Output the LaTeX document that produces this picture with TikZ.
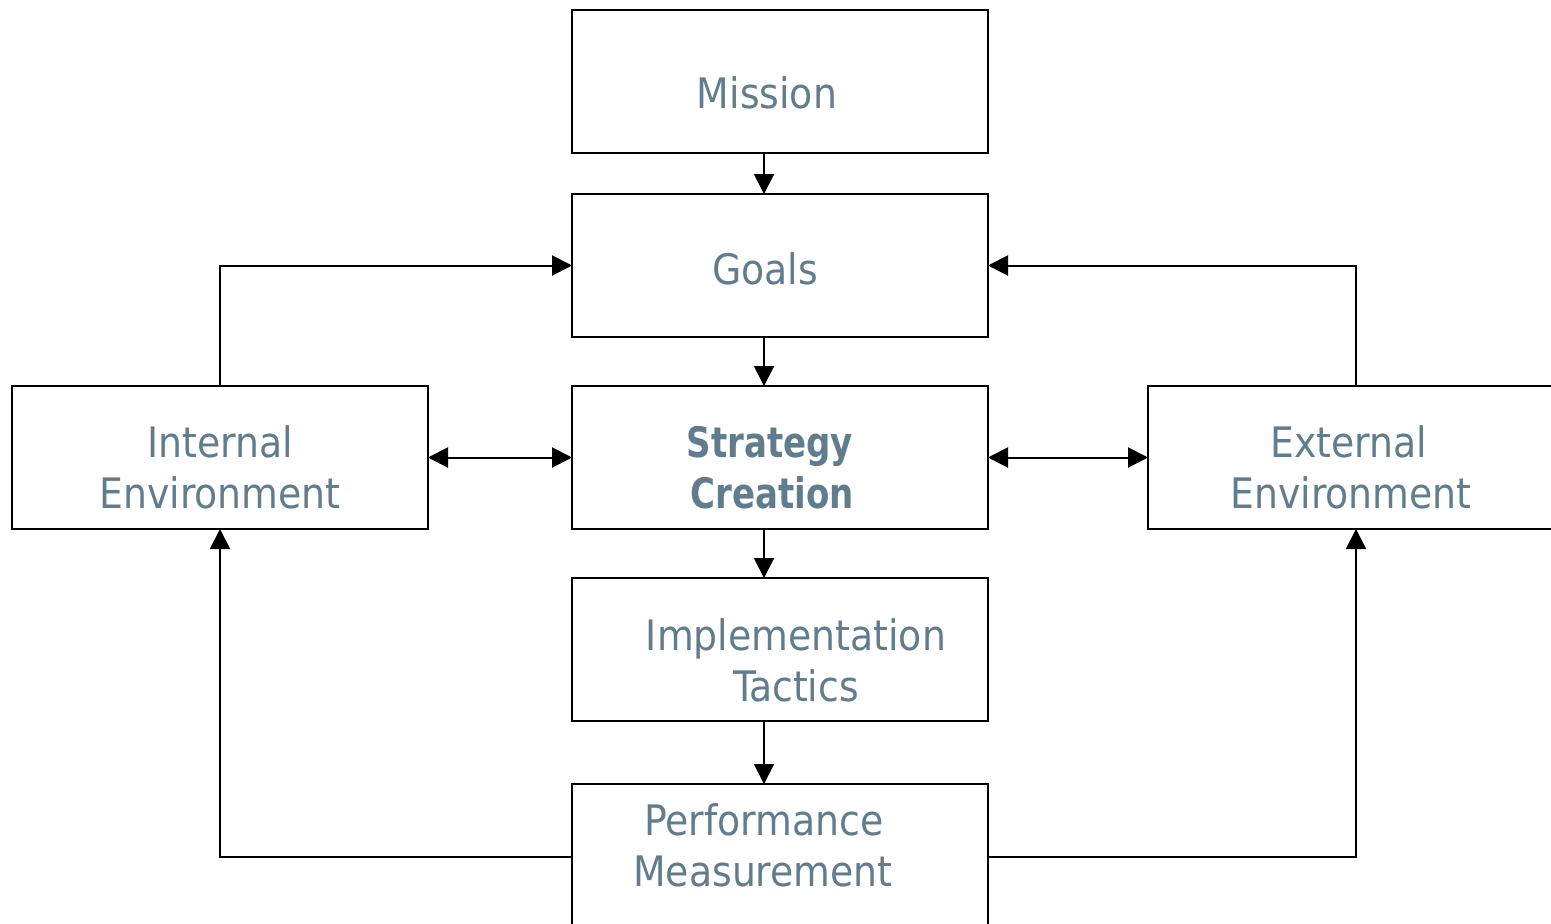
\documentclass[tikz,border=0pt]{standalone}
\usepackage{fontspec}
\setmainfont{DejaVu Sans Condensed}
\newfontfamily\bcond[FakeStretch=0.9]{DejaVu Sans Condensed}
\usetikzlibrary{arrows.meta}
\definecolor{txt}{RGB}{96,125,143}
\tikzset{
  box/.style={draw=black, line width=2pt, minimum width=416pt, minimum height=143pt, inner sep=0pt, outer sep=0pt},
  lbl/.style={text=txt, font=\fontsize{42}{50}\selectfont, anchor=base, inner sep=0pt},
  blbl/.style={lbl, font=\fontsize{42}{50}\selectfont\bcond\bfseries},
  tip/.tip={Triangle[length=20pt,width=20pt]},
  conn/.style={line width=2pt, -tip},
  bconn/.style={line width=2pt, tip-tip}
}
\begin{document}
\begin{tikzpicture}[x=1pt,y=-1pt]
\useasboundingbox (0,0) rectangle (1551,924);
\clip (0,0) rectangle (1551,924);
\fill[white] (0,0) rectangle (1551,924);
% boxes
\node[box] (mission) at (780,81.5) {};
\node[box] (goals) at (780,265.5) {};
\node[box] (strategy) at (780,457.5) {};
\node[box] (impl) at (780,649.5) {};
\node[box, minimum height=146pt] (perf) at (780,857) {};
\node[box] (internal) at (220,457.5) {};
\node[box] (external) at (1356,457.5) {};
% texts
\node[lbl] (tmission) at (767,108) {Mission};
\node[lbl] (tgoals) at (765,284) {Goals};
\node[blbl] (tstrat1) at (770,457) {Strategy};
\node[blbl] (tstrat2) at (772,508) {Creation};
\node[lbl] (tint1) at (220,457) {Internal};
\node[lbl] (tint2) at (220,508) {Environment};
\node[lbl] (text1) at (1349,457) {External};
\node[lbl] (text2) at (1351,508) {Environment};
\node[lbl] (timpl1) at (796,650) {Implementation};
\node[lbl] (timpl2) at (796,701) {Tactics};
\node[lbl] (tperf1) at (764,835) {Performance};
\node[lbl] (tperf2) at (763,886) {Measurement};
% connectors
\draw[conn] ([xshift=-16pt]mission.south) -- ([xshift=-16pt]goals.north);
\draw[conn] ([xshift=-16pt]goals.south) -- ([xshift=-16pt]strategy.north);
\draw[conn] ([xshift=-16pt]strategy.south) -- ([xshift=-16pt]impl.north);
\draw[conn] ([xshift=-16pt]impl.south) -- ([xshift=-16pt]perf.north);
\draw[conn] (internal.north) |- (goals.west);
\draw[conn] (external.north) |- (goals.east);
\draw[bconn] (internal.east) -- (strategy.west);
\draw[bconn] (strategy.east) -- (external.west);
\draw[conn] (perf.west) -| (internal.south);
\draw[conn] (perf.east) -| (external.south);
\end{tikzpicture}
\end{document}
